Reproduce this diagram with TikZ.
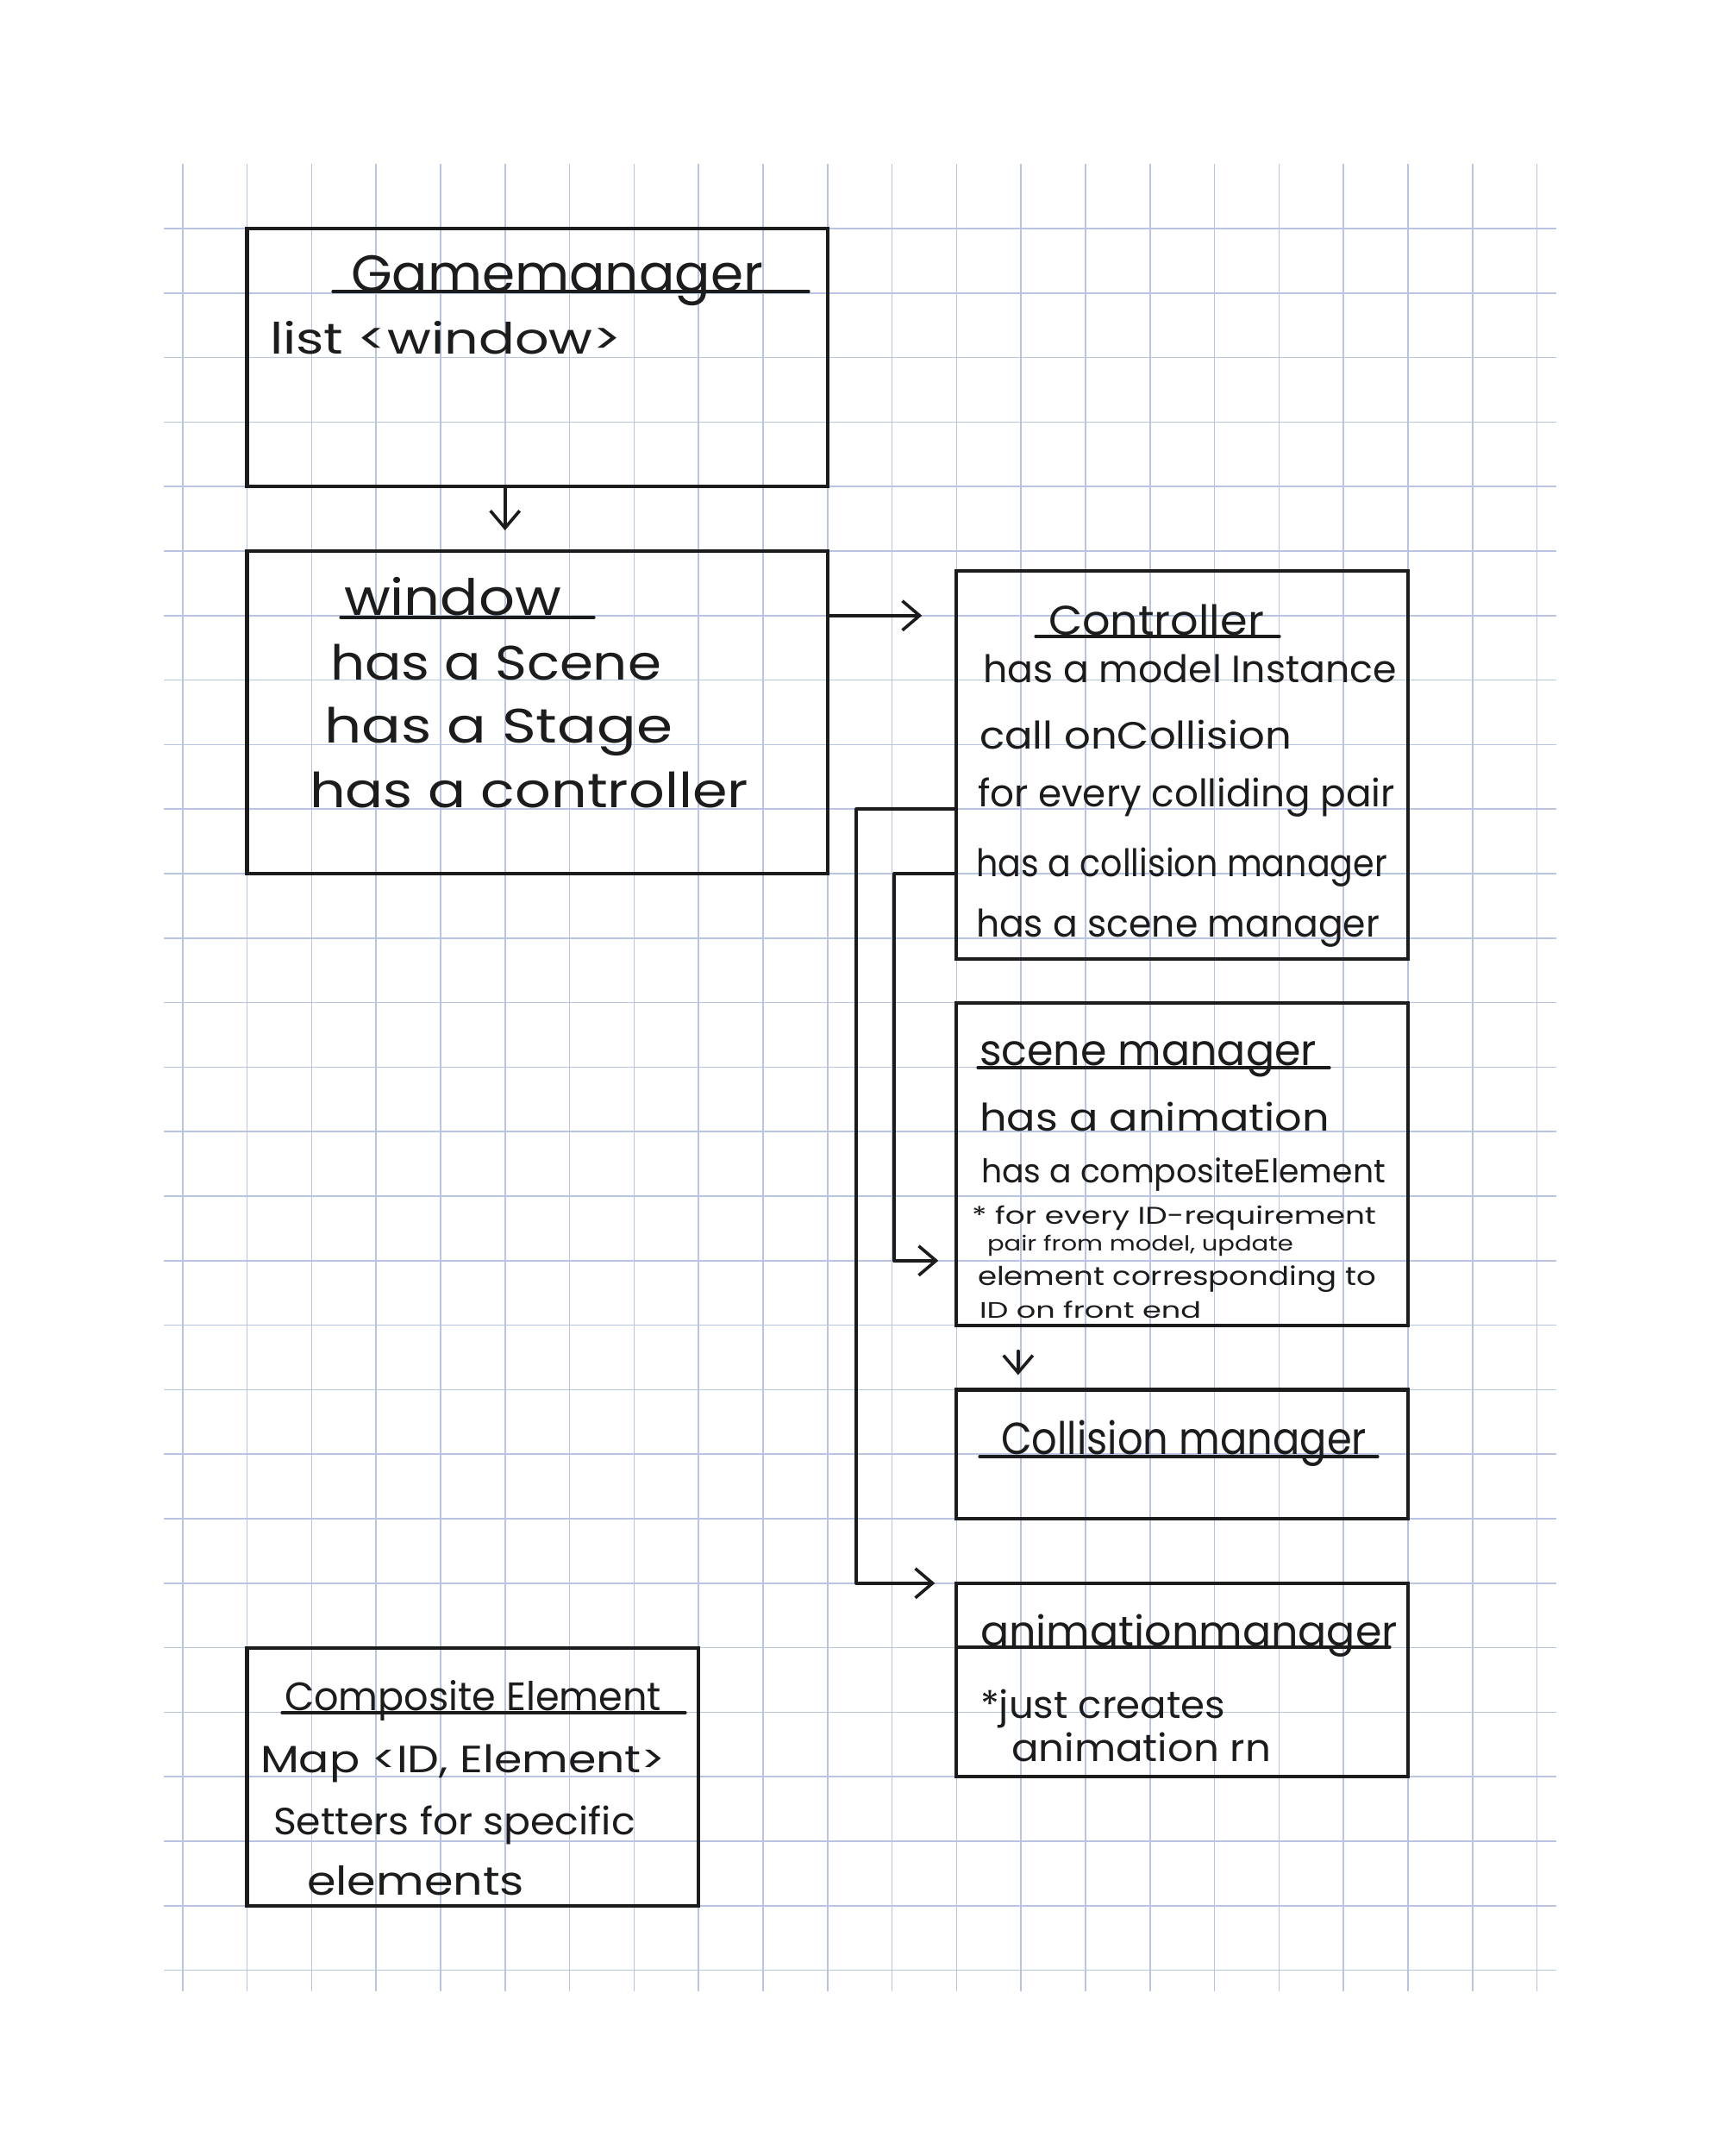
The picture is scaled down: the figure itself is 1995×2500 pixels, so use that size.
\documentclass[tikz,border=0pt]{standalone}
\usepackage{fontspec}
\setmainfont{Poppins}
\usetikzlibrary{arrows.meta,calc}
\definecolor{gridc}{RGB}{184,196,226}
\definecolor{ink}{RGB}{28,28,28}
\newcommand\hw[3]{{\fontsize{#2pt}{#2pt}\selectfont\resizebox{#1pt}{\height}{#3}}}
\begin{document}
\begin{tikzpicture}[x=1pt,y=-1pt,
  gridline/.style={draw=gridc,line width=1.6pt},
  box/.style={draw=ink,line width=4.2pt,anchor=north west,inner sep=0pt,outer sep=0pt},
  txt/.style={anchor=base west,inner sep=0pt,outer sep=0pt,text=ink},
  uline/.style={draw=ink,line width=3.2pt,line cap=round},
  conn/.style={draw=ink,line width=3.6pt,line cap=round,line join=round},
  arr/.style={conn,-{Straight Barb[length=20pt,width=34pt]}}]
\useasboundingbox (0,0) rectangle (1995,2500);
\fill[white] (0,0) rectangle (1995,2500);
% grid
\foreach \i in {0,...,21} \draw[gridline] ({211.7+74.8*\i},190) -- ({211.7+74.8*\i},2309);
\foreach \j in {0,...,27} \draw[gridline] (190,{265+74.8*\j}) -- (1805,{265+74.8*\j});

% boxes
\node[box,minimum width=673.2pt,minimum height=299.2pt] (gm) at (286.5,265) {};
\node[box,minimum width=673.2pt,minimum height=374pt] (win) at (286.5,639) {};
\node[box,minimum width=523.6pt,minimum height=450pt] (ctrl) at (1109.3,662) {};
\node[box,minimum width=523.6pt,minimum height=374pt] (sm) at (1109.3,1162.6) {};
\node[box,minimum width=523.6pt,minimum height=149.6pt] (cm) at (1109.3,1611.4) {};
\node[box,minimum width=523.6pt,minimum height=224.4pt] (am) at (1109.3,1835.8) {};
\node[box,minimum width=523.6pt,minimum height=299.2pt] (ce) at (286.5,1910.6) {};

% GameManager
\node[txt] (gmt) at (407,338) {\hw{478}{60}{Gamemanager}};
\draw[uline] (386,338) -- (938,338);
\node[txt] (gm1) at (313,410) {\hw{408}{50}{list <window>}};

% Window
\node[txt] (wt) at (399,713) {\hw{252}{58}{window}};
\draw[uline] (395,716) -- (689,716);
\node[txt] (w1) at (383,788) {\hw{384}{56}{has a Scene}};
\node[txt] (w2) at (376,861) {\hw{404}{56}{has a Stage}};
\node[txt] (w3) at (359,936) {\hw{509}{56}{has a controller}};

% Controller
\node[txt] (ct) at (1216,736) {\hw{250}{48}{Controller}};
\draw[uline] (1201,738) -- (1484,738);
\node[txt] (c1) at (1140,791) {\hw{480}{44}{has a model Instance}};
\node[txt] (c2) at (1136,868) {\hw{362}{44}{call onCollision}};
\node[txt] (c3) at (1134,935) {\hw{484}{44}{for every colliding pair}};
\node[txt] (c4) at (1132,1016) {\hw{477}{44}{has a collision manager}};
\node[txt] (c5) at (1132,1086) {\hw{468}{44}{has a scene manager}};

% Scene manager
\node[txt] (st) at (1136,1235) {\hw{391}{50}{scene manager}};
\draw[uline] (1134,1238) -- (1542,1238);
\node[txt] (s1) at (1136,1311) {\hw{406}{44}{has a animation}};
\node[txt] (s2) at (1138,1371) {\hw{469}{38}{has a compositeElement}};
\node[txt] (s3) at (1127,1419) {\hw{469}{28}{* for every ID-requirement}};
\node[txt] (s4) at (1145,1450) {\hw{355}{24}{pair from model, update}};
\node[txt] (s5) at (1134,1490) {\hw{462}{30}{element corresponding to}};
\node[txt] (s6) at (1136,1528) {\hw{257}{26}{ID on front end}};

% Collision manager
\node[txt] (cmt) at (1161,1686) {\hw{424}{52}{Collision manager}};
\draw[uline] (1136,1689) -- (1598,1689);

% Animation manager
\node[txt] (amt) at (1137,1908) {\hw{484}{48}{animationmanager}};
\draw[uline] (1109,1910) -- (1612,1910);
\node[txt] (a1) at (1137,1992) {\hw{284}{44}{*just creates}};
\node[txt] (a2) at (1173,2042) {\hw{301}{44}{animation rn}};

% Composite Element
\node[txt] (cet) at (330,1983) {\hw{437}{46}{Composite Element}};
\draw[uline] (327,1986) -- (795,1986);
\node[txt] (ce1) at (302,2055) {\hw{470}{44}{Map <ID, Element>}};
\node[txt] (ce2) at (317,2127) {\hw{420}{44}{Setters for specific}};
\node[txt] (ce3) at (356,2197) {\hw{252}{46}{elements}};

% helper coordinates
\coordinate (yA) at (0,713.8);
\coordinate (yB) at (0,938.2);
\coordinate (yC) at (0,1013);
\coordinate (yD) at (0,1461.8);
\coordinate (xA) at (585.7,0);
\coordinate (xB) at (993,0);
\coordinate (xC) at (1036.7,0);
\coordinate (xS) at (1180.8,0);

% connectors
\draw[arr,shorten >=24pt] (xA |- gm.south) -- (xA |- win.north);
\draw[arr,shorten >=40pt] (win.east |- yA) -- (ctrl.west |- yA);
\draw[arr,shorten >=25pt] (ctrl.west |- yB) -- (xB |- yB) -- (xB |- am.north west) -- (am.north west);
\draw[arr,shorten >=21pt] (ctrl.west |- yC) -- (xC |- yC) -- (xC |- yD) -- (sm.west |- yD);
\draw[arr,shorten <=30pt,shorten >=17pt] (xS |- sm.south) -- (xS |- cm.north);
\end{tikzpicture}
\end{document}
